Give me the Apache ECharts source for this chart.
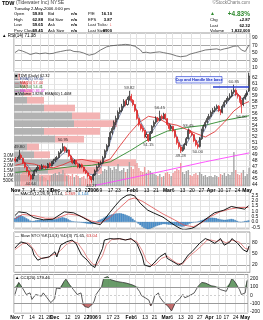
<!DOCTYPE html>
<html>
<head>
<meta charset="utf-8">
<script src="https://cdn.jsdelivr.net/npm/echarts@6.0.0/dist/echarts.min.js"></script>
<style>
html, body { margin: 0; padding: 0; background: #fff; }
#chart { width: 263px; height: 320px; }
</style>
</head>
<body>
<div id="chart"></div>
<script>
// trading days, Nov 2005 - May 2006
var dates = [
  'Nov 1','Nov 2','Nov 3','Nov 4','Nov 7','Nov 8','Nov 9','Nov 10','Nov 11','Nov 14','Nov 15','Nov 16','Nov 17','Nov 18','Nov 21','Nov 22','Nov 23','Nov 25','Nov 28','Nov 29','Nov 30',
  'Dec 1','Dec 2','Dec 5','Dec 6','Dec 7','Dec 8','Dec 9','Dec 12','Dec 13','Dec 14','Dec 15','Dec 16','Dec 19','Dec 20','Dec 21','Dec 22','Dec 23','Dec 27','Dec 28','Dec 29',
  'Jan 3','Jan 4','Jan 5','Jan 6','Jan 9','Jan 10','Jan 11','Jan 12','Jan 13','Jan 17','Jan 18','Jan 19','Jan 20','Jan 23','Jan 24','Jan 25','Jan 26','Jan 27','Jan 30','Jan 31',
  'Feb 1','Feb 2','Feb 3','Feb 6','Feb 7','Feb 8','Feb 9','Feb 10','Feb 13','Feb 14','Feb 15','Feb 16','Feb 17','Feb 21','Feb 22','Feb 23','Feb 24','Feb 27','Feb 28',
  'Mar 1','Mar 2','Mar 3','Mar 6','Mar 7','Mar 8','Mar 9','Mar 10','Mar 13','Mar 14','Mar 15','Mar 16','Mar 17','Mar 20','Mar 21','Mar 22','Mar 23','Mar 24','Mar 27','Mar 28','Mar 29','Mar 30','Mar 31',
  'Apr 3','Apr 4','Apr 5','Apr 6','Apr 7','Apr 10','Apr 11','Apr 12','Apr 13','Apr 17','Apr 18','Apr 19','Apr 20','Apr 21','Apr 24','Apr 25','Apr 26','Apr 27','Apr 28',
  'May 1','May 2'
];
var tickIdx  = [0, 4, 9, 14, 18, 21, 28, 33, 38, 41, 45, 50, 54, 61, 64, 69, 74, 80, 83, 88, 93, 98, 103, 108, 112, 117, 122];
var tickText = ['Nov','7','14','21','28','Dec','12','19','27','2006','9','17','23','Feb','6','13','21','Mar','6','13','20','27','Apr','10','17','24','May'];
var boldTicks = ['Nov','Dec','2006','Feb','Mar','Apr','May'];

var openP = [
  48.3,47.9,48.3,48.9,48.4,47.6,46.9,46.2,45.5,44.9,45.6,46.2,46.6,47.0,46.6,47.1,47.0,46.8,47.5,47.1,47.6,
  48.0,48.3,48.5,49.3,49.7,50.3,49.6,49.8,48.8,48.3,47.6,48.0,47.4,46.9,47.3,46.9,46.3,45.9,45.4,45.2,
  44.8,45.6,46.3,46.9,47.4,47.6,48.5,49.7,50.5,51.7,52.7,53.4,54.5,55.1,56.2,56.5,57.2,58.0,57.5,58.4,
  58.9,58.2,57.5,56.5,55.1,54.1,53.5,53.1,52.0,52.4,51.4,52.7,53.8,54.5,55.1,54.8,55.5,55.1,55.8,
  55.1,54.1,53.4,53.8,53.1,52.0,51.0,50.3,49.7,50.0,50.7,51.7,53.1,52.7,52.4,51.4,50.7,50.4,51.7,53.1,53.8,54.5,55.1,
  55.5,56.2,56.5,56.8,57.2,56.5,56.2,57.2,57.9,58.2,58.6,58.9,59.6,59.9,59.2,58.9,58.2,57.5,58.6,
  59.1,59.8
];
var closeP = [
  47.96,48.30,48.81,48.47,47.62,46.93,46.25,45.56,44.88,45.56,46.25,46.59,46.93,46.59,47.10,46.93,46.76,47.44,47.10,47.62,47.96,
  48.30,48.47,49.32,49.67,50.35,49.67,49.84,48.81,48.30,47.62,47.96,47.44,46.93,47.27,46.93,46.25,45.91,45.39,45.22,44.71,
  45.56,46.25,46.93,47.44,47.62,48.47,49.67,50.52,51.72,52.74,53.43,54.45,55.14,56.16,56.50,57.19,58.04,57.53,58.38,58.90,
  58.21,57.53,56.50,55.14,54.11,53.43,53.09,52.06,52.40,51.38,52.74,53.77,54.45,55.14,54.79,55.48,55.14,55.82,55.14,
  54.11,53.43,53.77,53.09,52.06,51.03,50.35,49.67,50.01,50.69,51.72,53.09,52.74,52.40,51.38,50.69,50.35,51.72,53.09,53.77,54.45,55.14,55.48,
  56.16,56.50,56.85,57.19,56.50,56.16,57.19,57.87,58.21,58.56,58.90,59.58,59.92,59.24,58.90,58.21,57.53,58.56,59.07,
  59.45,62.32
];
var highP = [
  48.6,48.6,49.8,49.2,48.5,47.8,47.1,46.4,45.7,45.8,46.5,46.9,47.2,47.2,47.4,47.3,47.2,47.6,47.7,47.9,48.3,
  48.6,48.8,49.6,50.0,50.95,50.5,50.2,49.9,49.0,48.4,48.2,48.1,47.6,47.5,47.5,47.0,46.4,46.0,45.6,45.3,
  45.8,46.5,47.2,47.7,48.0,48.8,49.9,50.8,52.0,53.0,53.8,54.8,55.6,56.5,57.0,57.6,58.4,58.3,58.8,59.82,
  59.3,58.4,57.6,56.7,55.3,54.3,53.9,53.2,52.8,52.5,53.0,54.0,54.8,55.5,55.4,56.45,55.8,56.1,56.0,
  55.2,54.3,54.1,53.9,53.2,52.1,51.2,50.6,50.4,51.0,52.0,53.45,53.3,52.9,52.5,51.5,51.0,52.0,53.4,54.1,54.8,55.5,55.9,
  56.5,56.9,57.2,57.5,57.4,56.7,57.5,58.2,58.6,58.9,59.4,60.0,60.85,60.2,59.5,59.1,58.3,58.8,59.4,
  59.9,62.88
];
var lowP = [
  47.7,47.8,48.2,48.2,47.4,46.7,46.0,45.3,44.64,44.8,45.4,46.0,46.4,46.4,46.5,46.7,46.5,46.7,46.9,47.0,47.4,
  47.8,48.1,48.4,49.1,49.5,49.4,49.3,48.6,48.1,47.4,47.4,47.2,46.7,46.7,46.7,46.0,45.7,45.1,44.9,44.27,
  44.6,45.4,46.1,46.8,47.2,47.5,48.4,49.5,50.3,51.5,52.4,53.2,54.0,54.9,55.9,56.2,57.0,57.2,57.3,58.2,
  57.9,57.2,56.2,54.9,53.8,53.1,52.8,51.8,51.8,51.15,51.3,52.5,53.6,54.2,54.5,54.7,54.9,55.0,54.9,
  53.9,53.1,53.2,52.8,51.8,50.7,50.0,49.28,49.5,49.9,50.5,51.6,52.5,52.1,51.1,50.4,50.0,50.2,51.5,52.9,53.5,54.3,54.9,
  55.3,55.9,56.2,56.6,56.2,55.7,56.0,57.0,57.6,58.0,58.3,58.7,59.3,58.9,58.5,57.8,56.0,57.2,58.3,
  58.8,59.65
];
// volume, millions of shares
var volume = [
  1.5,1.3,1.9,1.2,1.4,1.6,1.3,1.5,1.8,1.2,1.1,1.0,1.2,0.9,1.0,0.9,0.8,0.6,1.0,1.1,1.2,
  1.3,1.1,1.4,1.2,1.6,1.3,1.0,1.1,1.0,1.2,0.9,1.1,1.0,0.8,0.9,1.0,0.7,0.8,0.9,1.0,
  1.2,1.4,1.3,1.1,1.2,1.5,1.7,1.6,2.0,1.8,1.6,1.9,1.7,2.2,1.5,1.6,1.8,1.4,1.7,2.4,
  1.9,1.7,2.1,2.3,1.8,1.5,1.4,1.9,1.3,1.6,1.5,1.3,1.2,1.1,1.0,1.2,0.9,1.0,1.3,
  1.4,1.2,1.0,1.3,1.5,1.7,1.6,2.3,1.4,1.2,1.5,1.6,1.1,1.0,1.2,1.3,1.1,1.4,1.2,1.0,1.1,0.9,1.0,
  1.0,0.9,1.1,1.0,0.9,1.2,1.1,1.3,1.0,1.2,1.1,1.4,3.4,1.6,1.2,1.1,1.3,1.6,1.0,
  1.2,1.82
];
// moving averages [day index, value]
var ema5 = [[0,47.9],[3,48.3],[6,47.3],[9,46.1],[12,46.4],[15,46.8],[18,47.0],[21,47.7],[24,48.9],[27,49.6],[30,48.5],[33,47.5],[36,46.8],[39,45.7],[42,45.6],[45,46.9],[48,49.3],[51,52.3],[54,55.0],[57,57.1],[60,58.3],[63,57.2],[66,54.5],[69,52.8],[72,52.9],[75,54.4],[78,55.3],[81,54.2],[84,52.8],[87,50.5],[90,50.8],[93,52.5],[96,51.0],[99,52.8],[102,54.8],[105,56.4],[108,56.5],[111,57.6],[114,59.0],[117,59.3],[120,58.2],[123,60.0]];
var ma20 = [[0,47.2],[5,47.6],[10,47.4],[15,46.9],[20,46.8],[25,47.3],[30,48.0],[35,48.2],[40,47.9],[45,47.6],[50,48.3],[55,50.5],[60,52.6],[65,54.4],[70,55.5],[75,55.2],[80,54.3],[85,54.0],[90,53.3],[95,52.6],[100,52.0],[105,52.9],[110,54.5],[115,56.4],[120,57.6],[123,58.0]];
var ma50 = [[0,46.0],[10,46.3],[20,46.6],[30,47.0],[40,47.2],[50,47.8],[60,49.6],[70,51.6],[80,53.0],[90,53.6],[100,54.0],[110,54.8],[123,55.6]];
var ma200 = [[42,43.8],[60,45.0],[78,46.25],[100,47.8],[123,49.3]];
// volume by price, 14 bands from top to bottom (millions)
var vbpUp   = [2, 4, 5, 6.5, 15, 29, 30, 15, 20.5, 6.5, 10, 31, 17, 12];
var vbpDown = [1, 3, 4, 8.5, 15.5, 14, 21.5, 28, 14.5, 6, 8, 30, 27, 15];
// price annotations
var peakIdx = [2, 25, 60, 76, 91, 115];
var peakTxt = ['49.80', '50.95', '59.82', '56.45', '53.45', '60.85'];
var troughIdx = [8, 40, 70, 87, 96, 119];
var troughTxt = ['44.64', '44.27', '51.15', '49.28', '50.00', '56.00'];
// indicators
var rsi = [[0,51],[2,58],[4,55],[6,51],[8,46],[9,47],[11,50],[13,48],[14,51],[16,50],[18,48],[20,49],[22,52],[24,54],[25,55],[27,57],[29,58],[31,54],[32,52],[34,53],[36,50],[37,47],[39,44],[40,42],[42,48],[43,51],[45,58],[46,63],[48,66],[50,69],[52,70],[54,71],[56,72],[58,73],[59,74],[60,72],[61,71],[63,68],[64,65],[66,58],[67,51],[69,52],[71,50],[72,49],[74,52],[76,53],[78,51],[80,49],[82,47],[83,45],[85,42],[87,40],[88,41],[90,42],[92,47],[93,49],[95,51],[96,53],[98,55],[100,58],[102,59],[104,60],[106,61],[108,58],[110,61],[112,63],[113,65],[115,68],[117,69],[118,65],[119,58],[121,54],[122,51],[123,71.38]];
var macd = [[0,0.6],[2,0.95],[6,0.85],[10,0.4],[15,0.2],[20,0.25],[26,0.95],[31,0.85],[36,0.4],[41,-0.1],[45,-0.25],[47,0.2],[50,0.9],[53,1.55],[56,2.15],[59,2.5],[61,2.55],[63,2.45],[66,1.75],[70,1.1],[73,0.85],[78,0.45],[84,-0.3],[87,-0.6],[89,-0.75],[93,-0.6],[95,-0.45],[100,0.2],[105,0.85],[110,1.1],[114,1.45],[118,1.3],[121,1.2],[123,1.514]];
var macdSignal = [[0,0.3],[4,0.7],[10,0.6],[16,0.35],[22,0.35],[28,0.75],[34,0.6],[40,0.1],[45,-0.1],[50,0.4],[55,1.3],[60,2.1],[63,2.25],[67,1.95],[72,1.4],[78,0.75],[84,0.2],[89,-0.3],[94,-0.45],[98,-0.1],[103,0.5],[108,0.95],[113,1.2],[118,1.35],[123,1.369]];
var macdHist = [
  0.35,0.5,0.6,0.62,0.55,0.45,0.35,0.25,0.12,0.08,0.1,0.14,0.18,0.18,0.2,0.18,0.16,0.18,0.17,0.2,0.22,
  0.25,0.28,0.35,0.4,0.45,0.4,0.35,0.25,0.15,0.08,0.05,0.03,0.0,-0.02,-0.05,-0.08,-0.12,-0.15,-0.18,-0.2,
  -0.15,-0.05,0.05,0.15,0.22,0.3,0.4,0.5,0.58,0.65,0.7,0.75,0.78,0.8,0.82,0.8,0.75,0.7,0.62,0.55,
  0.45,0.3,0.15,0.0,-0.15,-0.3,-0.45,-0.55,-0.62,-0.68,-0.65,-0.58,-0.5,-0.42,-0.35,-0.3,-0.25,-0.2,-0.2,
  -0.22,-0.25,-0.25,-0.27,-0.3,-0.34,-0.38,-0.42,-0.45,-0.42,-0.35,-0.25,-0.15,-0.08,-0.04,-0.02,0.02,0.08,0.14,0.2,0.28,0.35,0.38,
  0.4,0.4,0.38,0.35,0.3,0.25,0.22,0.2,0.2,0.22,0.25,0.28,0.25,0.18,0.1,0.02,-0.02,0.02,0.08,
  0.1,0.144
];
var stoK = [[0,66],[1,72],[3,83],[6,79],[9,65],[10,47],[12,33],[14,38],[18,42],[21,56],[22,42],[24,74],[27,83],[30,88],[32,79],[35,47],[38,33],[40,20],[42,13],[43,29],[46,65],[47,88],[50,92],[52,91],[55,92],[58,88],[61,92],[64,79],[67,42],[68,20],[71,15],[73,25],[76,42],[79,52],[80,38],[83,29],[86,20],[88,25],[91,47],[93,56],[94,61],[97,79],[100,92],[102,88],[105,79],[108,92],[110,74],[113,83],[114,92],[117,79],[120,61],[122,56],[123,71.65]];
var stoD = [[0,62],[2,70],[4,78],[7,80],[10,62],[12,45],[14,38],[17,40],[20,48],[22,50],[24,60],[27,76],[30,85],[33,80],[36,58],[38,40],[41,22],[43,20],[46,45],[48,75],[51,90],[55,91],[58,89],[61,90],[64,84],[67,58],[69,32],[72,18],[74,22],[77,38],[80,44],[82,36],[85,25],[88,22],[90,35],[93,50],[95,58],[98,72],[101,88],[103,88],[106,84],[108,88],[111,80],[114,88],[118,82],[121,65],[123,63.04]];
var cci = [[0,10],[1,88],[2,155],[3,147],[4,88],[6,10],[8,29],[9,-49],[11,10],[14,-10],[15,29],[17,-29],[19,-88],[21,-41],[22,88],[24,80],[26,166],[27,194],[29,127],[31,68],[33,10],[35,29],[36,-88],[37,-135],[39,-147],[41,-108],[42,-69],[43,10],[44,29],[46,107],[47,206],[49,225],[51,186],[54,166],[57,155],[59,147],[62,127],[64,107],[66,48],[67,-2],[69,-29],[71,-58],[72,-128],[73,-88],[74,-10],[76,29],[77,-29],[79,-88],[81,-128],[83,-187],[84,-167],[85,-88],[87,-49],[89,10],[90,-29],[92,-10],[95,29],[97,107],[99,155],[101,147],[104,115],[106,107],[109,68],[112,48],[114,147],[115,206],[117,147],[119,68],[120,10],[122,29],[123,179.46]];

var N = dates.length;
var FONT = 'Liberation Sans';
var RED = '#e02020', UPGRAY = '#a6a6a6', DOWNPINK = '#ee9c9c';

function catAxis(g, showLabel) {
  return {
    type: 'category', gridIndex: g, data: dates, boundaryGap: true,
    axisLine: { show: false }, axisTick: { show: false },
    axisLabel: {
      show: showLabel, fontSize: 5, fontFamily: FONT, color: '#000', margin: 2,
      interval: function (i) { return tickIdx.indexOf(i) >= 0; },
      formatter: function (v, i) {
        var k = tickIdx.indexOf(i);
        if (k < 0) return '';
        return boldTicks.indexOf(tickText[k]) >= 0 ? '{b|' + tickText[k] + '}' : tickText[k];
      },
      rich: { b: { fontWeight: 'bold', fontSize: 5, fontFamily: FONT, color: '#000' } }
    },
    splitLine: { show: true, interval: function (i) { return tickIdx.indexOf(i) >= 0; }, lineStyle: { color: '#e2e2e2', width: 1 } }
  };
}
function valAxisX(g) { return { type: 'value', gridIndex: g, min: -0.5, max: N - 0.5, show: false }; }
function rightAxis(g, o) {
  var a = {
    type: 'value', gridIndex: g, position: 'right', scale: true,
    axisLine: { show: false }, axisTick: { show: false },
    axisLabel: { fontSize: 5, fontFamily: FONT, color: '#111', margin: 2, showMinLabel: false, showMaxLabel: false },
    splitLine: { show: true, lineStyle: { color: '#e6e6e6', width: 1 } }
  };
  for (var k in o) a[k] = o[k];
  return a;
}
function levelColors(lo, hi, step, styles) {
  var c = [];
  for (var v = lo; v <= hi + 1e-9; v += step) c.push(styles[Math.round(v)] || 'rgba(0,0,0,0)');
  return c;
}
function clipBand(pts, lim, above) {
  var out = [];
  for (var k = 0; k < pts.length; k++) {
    var p = pts[k];
    if (k > 0) {
      var q = pts[k - 1];
      if ((q[1] - lim) * (p[1] - lim) < 0) {
        var f = (lim - q[1]) / (p[1] - q[1]);
        out.push([q[0] + f * (p[0] - q[0]), lim]);
      }
    }
    out.push([p[0], above ? Math.max(p[1], lim) : Math.min(p[1], lim)]);
  }
  return out;
}
function line(xi, yi, data, color, w, z) {
  return { type: 'line', xAxisIndex: xi, yAxisIndex: yi, data: data, symbol: 'none', z: z || 3,
    lineStyle: { color: color, width: w }, silent: true };
}
function txt(x, y, s, o) {
  o = o || {};
  return { type: 'text', x: x, y: y, z: 100, silent: true,
    style: { text: s, fontSize: o.size || 5, fontFamily: FONT, fontWeight: o.bold ? 'bold' : 'normal',
      fill: o.color || '#000', align: o.align || 'left', verticalAlign: 'middle', rich: o.rich } };
}

var candleData = [], volData = [];
for (var i = 0; i < N; i++) {
  candleData.push([openP[i], closeP[i], lowP[i], highP[i]]);
  var down = i > 0 && closeP[i] < closeP[i - 1];
  volData.push({ value: volume[i], itemStyle: { color: down ? DOWNPINK : UPGRAY } });
}
var peaks = peakIdx.map(function (d, k) { return [d, highP[d], peakTxt[k]]; });
var troughs = troughIdx.map(function (d, k) { return [d, lowP[d], troughTxt[k]]; });
var bandNames = vbpUp.map(function (v, k) { return 'b' + k; });

var grids = [
  { left: 14, width: 236, top: 33, height: 38.75 },
  { left: 14, width: 236, top: 72, height: 114 },
  { left: 14, width: 236, top: 191, height: 38 },
  { left: 14, width: 236, top: 232, height: 40.3 },
  { left: 14, width: 236, top: 274.5, height: 38.5 },
  { left: 14, width: 236, top: 73, height: 109 }
];
grids.forEach(function (g, k) { g.show = k < 5; g.borderColor = '#9a9a9a'; g.borderWidth = 1; g.backgroundColor = 'rgba(0,0,0,0)'; });

var xAxes = [];
for (var g = 0; g < 5; g++) xAxes.push(catAxis(g, g === 1 || g === 4));
for (var g = 0; g < 5; g++) xAxes.push(valAxisX(g));
xAxes.push({ type: 'value', gridIndex: 5, min: 0, max: 118, show: false });

var yAxes = [
  rightAxis(0, { min: 0, max: 103.3, interval: 10, scale: false,
    axisLabel: { fontSize: 5, fontFamily: FONT, color: '#111', margin: 2, formatter: function (v) { return (v % 20 === 10) ? v : ''; } },
    splitLine: { show: true, lineStyle: { width: 1, color: levelColors(0, 100, 10, { 10: '#e6e6e6', 30: '#a8a8a8', 50: '#e6e6e6', 70: '#a8a8a8', 90: '#e6e6e6' }) } } }),
  rightAxis(1, { min: 43.7, max: 63.0, splitNumber: 19 }),
  { type: 'value', gridIndex: 1, position: 'left', min: 0, max: 11.4, interval: 0.5,
    axisLine: { show: false }, axisTick: { show: false }, splitLine: { show: false },
    axisLabel: { fontSize: 4.5, fontFamily: FONT, color: '#111', margin: 1,
      formatter: function (v) { if (v <= 0 || v > 3.01) return ''; return v < 1 ? '500K' : v.toFixed(1) + 'M'; } } },
  rightAxis(2, { min: -0.66, max: 2.9, splitNumber: 7, axisLabel: { fontSize: 5, fontFamily: FONT, color: '#111', margin: 2, showMinLabel: false, showMaxLabel: false, formatter: function (v) { return v.toFixed(1); } } }),
  rightAxis(3, { min: 0, max: 110, interval: 10, scale: false,
    axisLabel: { fontSize: 5, fontFamily: FONT, color: '#111', margin: 2, formatter: function (v) { return (v === 20 || v === 50 || v === 80) ? v : ''; } },
    splitLine: { show: true, lineStyle: { width: 1, color: levelColors(0, 110, 10, { 20: '#a8a8a8', 50: '#e0e0e0', 80: '#a8a8a8' }) } } }),
  rightAxis(4, { min: -212, max: 250, splitNumber: 5, splitLine: { show: false } }),
  { type: 'category', gridIndex: 5, data: bandNames, inverse: true, show: false }
];

var series = [
  line(5, 0, rsi, '#555', 0.8),
  { type: 'bar', xAxisIndex: 10, yAxisIndex: 6, stack: 'vbp', data: vbpUp, barWidth: '86%', z: 1, silent: true, itemStyle: { color: '#b2b2b2' } },
  { type: 'bar', xAxisIndex: 10, yAxisIndex: 6, stack: 'vbp', data: vbpDown, barWidth: '86%', z: 1, silent: true, itemStyle: { color: '#f3b3b3' } },
  { type: 'bar', xAxisIndex: 1, yAxisIndex: 2, data: volData, barWidth: '75%', z: 2, silent: true },
  line(6, 1, ma200, '#ff44ff', 0.9),
  line(6, 1, ma50, '#2e8b2e', 0.9),
  line(6, 1, ma20, '#e03a3a', 0.9),
  line(6, 1, ema5, '#4a5a8a', 0.7),
  { type: 'candlestick', xAxisIndex: 1, yAxisIndex: 1, data: candleData, barWidth: '80%', z: 4, silent: true,
    itemStyle: { color: '#ffffff', color0: RED, borderColor: '#111', borderColor0: RED, borderWidth: 0.7 },
    markLine: { silent: true, symbol: 'none', label: { show: false },
      lineStyle: { color: '#2a3fd0', width: 1.6, type: 'solid' },
      data: [[{ coord: [dates[104], 60.45] }, { coord: [dates[123], 60.45] }]] } },
  { type: 'scatter', xAxisIndex: 6, yAxisIndex: 1, data: peaks, symbolSize: 0, z: 5, silent: true,
    label: { show: true, position: 'top', distance: 1, fontSize: 4.2, fontFamily: FONT, color: '#000', formatter: function (p) { return p.data[2]; } } },
  { type: 'scatter', xAxisIndex: 6, yAxisIndex: 1, data: troughs, symbolSize: 0, z: 5, silent: true,
    label: { show: true, position: 'bottom', distance: 1, fontSize: 4.2, fontFamily: FONT, color: '#000', formatter: function (p) { return p.data[2]; } } },
  { type: 'bar', xAxisIndex: 2, yAxisIndex: 3, data: macdHist, barWidth: '100%', z: 2, silent: true,
    itemStyle: { color: '#4f93cf', borderColor: '#2f6fa8', borderWidth: 0.3 } },
  line(7, 3, macdSignal, '#e05050', 0.8),
  line(7, 3, macd, '#000', 0.9),
  line(8, 4, stoD, '#e07070', 0.8),
  line(8, 4, stoK, '#000', 0.9),
  { type: 'line', xAxisIndex: 9, yAxisIndex: 5, data: clipBand(cci, 100, true), symbol: 'none', z: 2, silent: true,
    lineStyle: { width: 0 }, areaStyle: { origin: 100, color: '#4f8a4f', opacity: 0.85 } },
  { type: 'line', xAxisIndex: 9, yAxisIndex: 5, data: clipBand(cci, -100, false), symbol: 'none', z: 2, silent: true,
    lineStyle: { width: 0 }, areaStyle: { origin: -100, color: '#b85555', opacity: 0.85 } },
  line(9, 5, cci, '#333', 0.8),
  { type: 'line', xAxisIndex: 9, yAxisIndex: 5, data: [], symbol: 'none', silent: true,
    markLine: { silent: true, symbol: 'none', label: { show: false },
      data: [
        { yAxis: 200, lineStyle: { color: '#e6e6e6', width: 1, type: 'solid' } },
        { yAxis: 100, lineStyle: { color: '#9a9a9a', width: 1, type: 'solid' } },
        { yAxis: 0, lineStyle: { color: '#cfcfcf', width: 1, type: [2, 2] } },
        { yAxis: -100, lineStyle: { color: '#9a9a9a', width: 1, type: 'solid' } },
        { yAxis: -200, lineStyle: { color: '#e6e6e6', width: 1, type: 'solid' } }
      ] } }
];

var HS = 4.2;
var graphics = [
  txt(2, 3, '{t|TDW} {s|(Tidewater Inc) NYSE}', { rich: {
    t: { fontSize: 5.5, fontWeight: 'bold', fontFamily: FONT, fill: '#000' },
    s: { fontSize: 5, fontFamily: FONT, fill: '#444' } } }),
  txt(250, 3, '\u00a9StockCharts.com', { size: 4.5, color: '#777', align: 'right' }),
  txt(14, 8.5, 'Tuesday 2-May-2006 4:00 pm', { size: HS }),
  txt(14, 14, 'Open', { size: HS }), txt(14, 19.5, 'High', { size: HS }),
  txt(14, 25, 'Low', { size: HS }), txt(14, 30.5, 'Prev Close', { size: HS }),
  txt(43, 14, '59.80', { size: HS, bold: true, align: 'right' }), txt(43, 19.5, '62.88', { size: HS, bold: true, align: 'right' }),
  txt(43, 25, '59.65', { size: HS, bold: true, align: 'right' }), txt(43, 30.5, '59.45', { size: HS, bold: true, align: 'right' }),
  txt(48, 14, 'Bid', { size: HS }), txt(48, 19.5, 'Bid Size', { size: HS }),
  txt(48, 25, 'Ask', { size: HS }), txt(48, 30.5, 'Ask Size', { size: HS }),
  txt(77, 14, 'n/a', { size: HS, bold: true, align: 'right' }), txt(77, 19.5, 'n/a', { size: HS, bold: true, align: 'right' }),
  txt(77, 25, 'n/a', { size: HS, bold: true, align: 'right' }), txt(77, 30.5, 'n/a', { size: HS, bold: true, align: 'right' }),
  txt(88, 14, 'P/E', { size: HS }), txt(88, 19.5, 'EPS', { size: HS }),
  txt(88, 25, 'Last Ticks:', { size: HS }), txt(88, 30.5, 'Last Size', { size: HS }),
  txt(112, 14, '16.10', { size: HS, bold: true, align: 'right' }), txt(112, 19.5, '3.87', { size: HS, bold: true, align: 'right' }),
  txt(112, 25, '\u2193', { size: 5, bold: true, color: RED, align: 'right' }), txt(112, 30.5, '8900', { size: HS, bold: true, align: 'right' }),
  txt(210, 14, '\u25b2', { size: 5, color: '#2f8a2f' }),
  txt(250, 14, '+4.83%', { size: 6.5, bold: true, color: '#2f8a2f', align: 'right' }),
  txt(210, 20, 'Chg', { size: HS }), txt(250, 20, '+2.87', { size: HS, bold: true, align: 'right' }),
  txt(210, 25.5, 'Last', { size: HS }), txt(250, 25.5, '62.32', { size: HS, bold: true, align: 'right' }),
  txt(210, 31, 'Volume', { size: HS }), txt(250, 31, '1,822,000', { size: HS, bold: true, align: 'right' }),
  txt(2, 35.5, '\u25b2 RSI(14) 71.38', { size: 4.5 }),
  // price panel legend
  txt(15, 75.7, '\u25a0 TDW (Daily) 62.32', { size: 3.8 }),
  txt(15, 79.4, '\u2014 EMA(5) 59.40', { size: 3.8, color: '#3a4a8a' }),
  txt(15, 83.1, '\u2014 MA(20) 57.44', { size: 3.8, color: '#d03030' }),
  txt(15, 86.8, '\u2014 MA(50) 54.41', { size: 3.8, color: '#2e7d2e' }),
  txt(15, 90.5, '\u2014 MA(200) 46.47', { size: 3.8, color: '#e030e0' }),
  txt(15, 94.2, '\u25a0 Volume 1.82M, EMA(60) 1.40M', { size: 3.8 }),
  // cup and handle note
  { type: 'rect', x: 176, y: 76.5, z: 100, silent: true, shape: { width: 46, height: 6.5 },
    style: { fill: '#e8ecff', stroke: '#2a3fd0', lineWidth: 0.6 } },
  txt(199, 79.8, 'Cup and Handle like base', { size: 3.9, bold: true, color: '#1a2fc0', align: 'center' }),
  // indicator titles
  txt(15, 193.5, '\u2014 MACD(12,26,9) {k|1.514}, {r|1.369}, {b|0.144}', { size: 4.3, rich: {
    k: { fontSize: 4.3, fontFamily: FONT, fill: '#000' }, r: { fontSize: 4.3, fontFamily: FONT, fill: '#d03030' },
    b: { fontSize: 4.3, fontFamily: FONT, fill: '#2f7fc0' } } }),
  txt(15, 236, '\u2014 Slow STO %K(14,3) %D(3) 71.65, {r|63.04}', { size: 4.3, rich: {
    r: { fontSize: 4.3, fontFamily: FONT, fill: '#d03030' } } }),
  txt(15, 278, '\u25b2 CCI(20) 179.46', { size: 4.3 })
];

var myChart = echarts.init(document.getElementById('chart'), null, { renderer: 'canvas' });
myChart.setOption({
  animation: false,
  backgroundColor: '#ffffff',
  grid: grids,
  xAxis: xAxes,
  yAxis: yAxes,
  series: series,
  graphic: graphics
});
</script>
</body>
</html>
